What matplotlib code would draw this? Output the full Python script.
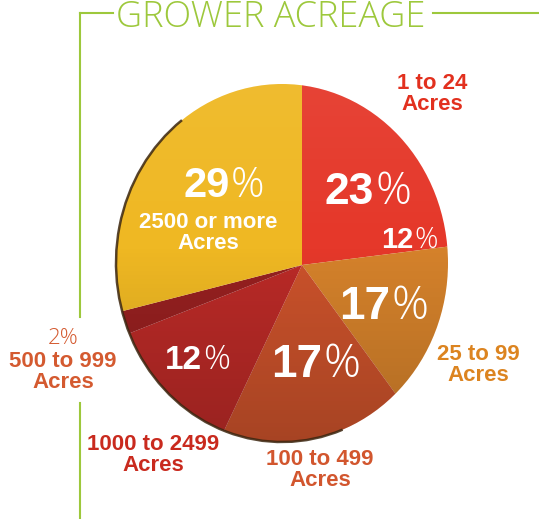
import numpy as np
import matplotlib.pyplot as plt
from matplotlib.patches import Ellipse, Arc

W, H = 539, 519

# data
groups = ['1 to 24\nAcres', '25 to 99\nAcres', '100 to 499\nAcres',
          '1000 to 2499\nAcres', '500 to 999\nAcres', '2500 or more\nAcres']
shares = [23, 17, 17, 12, 2, 29]
extra_pct = 12   # stray "12%" printed inside the first slice

slice_colors = ['#E5382A', '#D5822B', '#CB522B', '#BA2A27', '#962020', '#EFB823']
label_colors = ['#E2301E', '#DC8420', '#D2562E', '#C92A1E', '#D45A30', 'white']
green = '#9DC83C'
thin = 'Open Sans'

fig = plt.figure(figsize=(W / 100, H / 100), dpi=100)
ax = fig.add_axes([0, 0, 1, 1])


def Y(y):
    return H - y


# pie: apex of the slices sits right of the disc centre (tilted disc)
outline = Ellipse((282, Y(263)), 332, 358, transform=ax.transData)
wedges, _ = ax.pie(shares, colors=slice_colors, startangle=90, counterclock=False,
                   center=(302, Y(265)), radius=240,
                   wedgeprops=dict(linewidth=0))
for w in wedges:
    w.set_clip_path(outline)
    w.set_clip_on(True)

# light-to-dark shading over the disc
g = np.linspace(0, 1, 256)[:, None]
shade = np.zeros((256, 2, 4))
shade[..., :3] = np.where(g < 0.45, 1.0, 0.0)[..., None]
shade[..., 3] = np.where(g < 0.45, 0.06 * (0.45 - g) / 0.45, 0.18 * (g - 0.45) / 0.55)[:, :1]
im = ax.imshow(shade, extent=(110, 455, Y(445), Y(80)), aspect='auto', zorder=3)
im.set_clip_path(outline)

ax.add_patch(Arc((282, Y(263)), 332, 358, theta1=125, theta2=290,
                 color='#3b2610', lw=1.8, alpha=0.85, zorder=4))

# frame lines
ax.plot([80, 113], [Y(13), Y(13)], color=green, lw=1.5)
ax.plot([433, 539], [Y(13), Y(13)], color=green, lw=1.5)
ax.plot([80, 80], [Y(13), Y(317)], color=green, lw=1.5)
ax.plot([80, 80], [Y(403), Y(519)], color=green, lw=1.5)

ax.text(271, Y(27), 'GROWER ACREAGE', ha='center', va='baseline',
        color=green, fontsize=26, family=thin, fontweight='light')

# percentages inside slices: (split x, baseline y, size)
pct_pos = [(374, 204, 32), (390, 319, 33), (322, 377, 33),
           (202, 369, 24), None, (230, 197, 30)]
for v, p in zip(shares, pct_pos):
    if p is None:
        continue
    x, y, s = p
    ax.text(x, Y(y), str(v), ha='right', va='baseline', color='white',
            fontsize=s, family='Liberation Sans', fontweight='bold', zorder=5)
    ax.text(x + 1, Y(y), '%', ha='left', va='baseline', color='white',
            fontsize=s, family=thin, fontweight='light', zorder=5)
ax.text(413, Y(248), str(extra_pct), ha='right', va='baseline', color='white',
        fontsize=21, family='Liberation Sans', fontweight='bold', zorder=5)
ax.text(414, Y(248), '%', ha='left', va='baseline', color='white',
        fontsize=21, family=thin, fontweight='light', zorder=5)

# category labels
lab_pos = [(432, 94), (478, 365), (320, 470), (153, 455), (63, 372), (208, 233)]
for name, c, (x, y) in zip(groups, label_colors, lab_pos):
    ax.text(x, Y(y), name, ha='center', va='center', color=c, fontsize=16,
            family='Liberation Sans', fontweight='bold', linespacing=1.0, zorder=5)
ax.text(63, Y(338), f'{shares[4]}%', ha='center', va='center', color=label_colors[4],
        fontsize=16, family=thin, fontweight='light')

ax.set_xlim(0, W)
ax.set_ylim(0, H)
ax.set_aspect('auto')
ax.axis('off')
fig.savefig('out.png', dpi=100)
